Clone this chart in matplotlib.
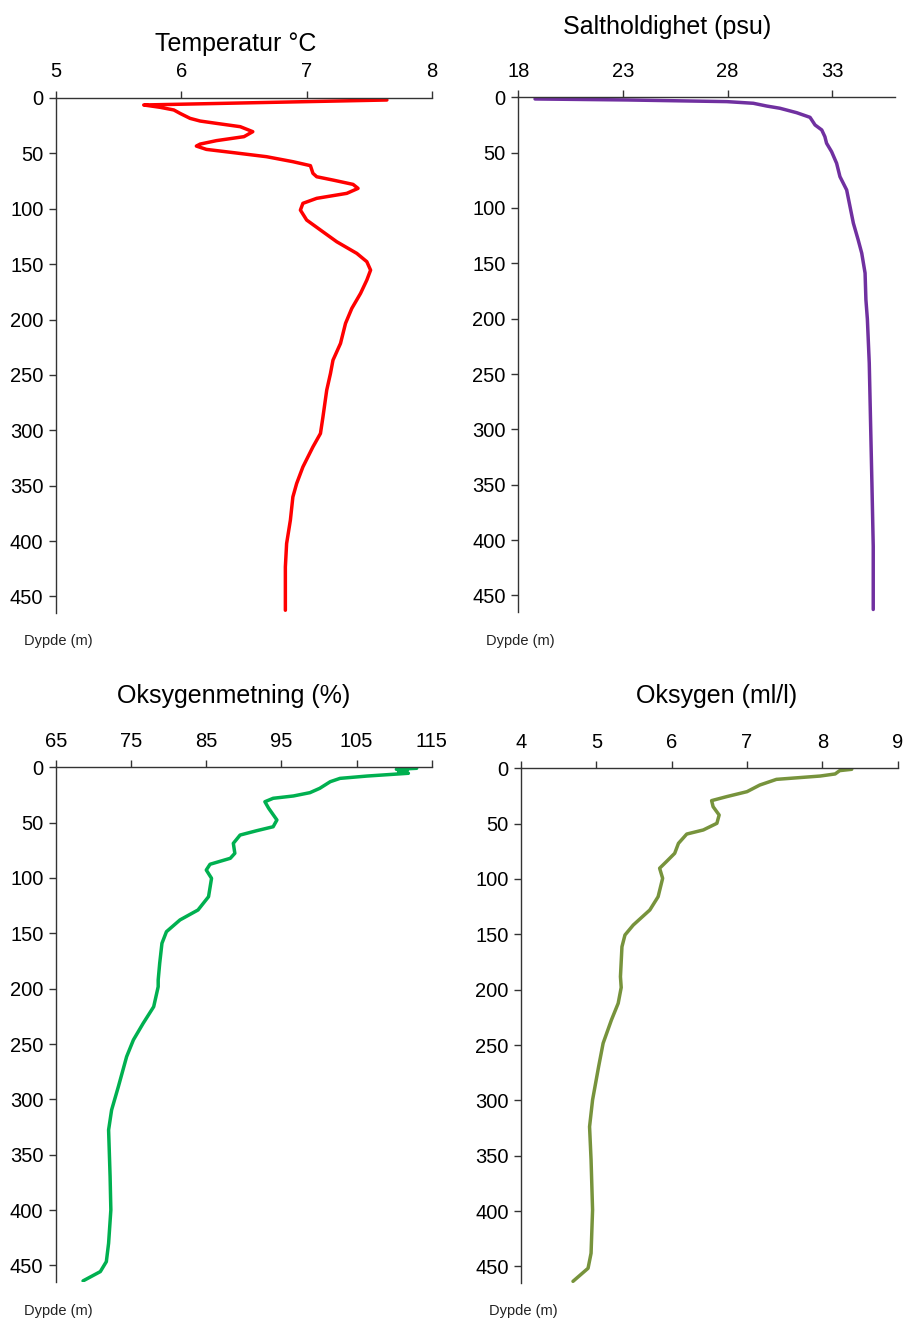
import matplotlib
matplotlib.use("Agg")
import matplotlib.pyplot as plt

plt.rcParams['font.family'] = ['Liberation Sans', 'DejaVu Sans']

# Temperatur (°C) mot dybde (m)
temp_depth = [1.8, 6.3, 8.4, 10.8, 13.9, 18.4, 20.8, 22.9, 25.9, 30.4, 34.9, 38.5,
              41.6, 43.4, 46.4, 49.4, 53.0, 57.5, 61.1, 68.0, 71.1, 74.1, 78.0,
              81.6, 86.1, 90.6, 95.1, 101.2, 110.2, 119.2, 129.8, 140.3, 147.8,
              155.4, 164.4, 176.4, 190.0, 203.5, 221.6, 236.7, 248.7, 263.8, 287.9,
              302.9, 315.0, 333.1, 348.1, 360.2, 381.2, 402.3, 423.4, 462.5]
temp = [7.64, 5.70, 5.83, 5.94, 5.99, 6.07, 6.15, 6.28, 6.47, 6.57, 6.50, 6.28,
        6.15, 6.12, 6.20, 6.42, 6.68, 6.89, 7.03, 7.05, 7.08, 7.21, 7.37, 7.41,
        7.32, 7.08, 6.97, 6.95, 7.00, 7.11, 7.24, 7.40, 7.48, 7.51, 7.48, 7.43,
        7.36, 7.31, 7.27, 7.21, 7.19, 7.16, 7.13, 7.11, 7.05, 6.97, 6.92, 6.89,
        6.87, 6.84, 6.83, 6.83]

# Saltholdighet (psu)
sal_depth = [1.5, 2.4, 3.9, 5.4, 7.9, 9.9, 13.9, 18.1, 25.0, 29.5, 35.6, 41.5,
             49.1, 59.6, 71.7, 83.7, 98.7, 113.7, 128.8, 140.8, 158.8, 182.9,
             200.4, 240.1, 300.3, 351.4, 405.6, 462.7]
sal = [18.80, 23.18, 27.96, 29.23, 29.87, 30.50, 31.30, 31.94, 32.18, 32.50, 32.65,
       32.73, 32.97, 33.21, 33.37, 33.69, 33.85, 34.01, 34.24, 34.41, 34.57, 34.61,
       34.68, 34.77, 34.84, 34.90, 34.96, 34.96]

# Oksygenmetning (%)
osat_depth = [0.9, 1.8, 3.0, 4.2, 5.4, 7.9, 10.0, 13.0, 19.0, 22.9, 25.9, 28.0,
              31.1, 37.0, 47.6, 53.7, 57.3, 61.2, 68.7, 77.7, 82.2, 87.6, 92.8,
              100.3, 116.9, 128.9, 137.9, 148.5, 159.0, 177.1, 192.1, 198.2, 216.3,
              231.3, 246.3, 261.4, 288.5, 309.6, 327.6, 369.8, 399.9, 430.0, 446.6,
              455.6, 464.0]
osat = [113.0, 110.3, 111.7, 110.6, 111.9, 106.4, 102.8, 101.5, 100.1, 98.8, 96.6,
        93.9, 92.8, 93.3, 94.4, 93.9, 91.7, 89.5, 88.6, 88.8, 88.2, 85.5, 85.0,
        85.7, 85.3, 83.9, 81.5, 79.7, 79.1, 78.8, 78.6, 78.6, 78.0, 76.6, 75.3,
        74.4, 73.3, 72.4, 72.0, 72.2, 72.3, 72.0, 71.7, 70.9, 68.6]

# Oksygen (ml/l)
oxy_depth = [0.9, 2.1, 5.1, 7.0, 10.0, 15.1, 21.1, 25.6, 29.2, 34.7, 42.2, 49.7,
             55.7, 59.4, 67.8, 76.8, 84.3, 90.3, 99.4, 116.0, 128.0, 141.6, 150.6,
             161.2, 188.3, 198.0, 212.3, 227.4, 248.4, 269.6, 299.6, 323.8, 353.8,
             399.0, 438.1, 451.7, 463.5]
oxy = [8.39, 8.23, 8.17, 7.97, 7.39, 7.17, 7.00, 6.73, 6.53, 6.55, 6.63, 6.60,
       6.42, 6.20, 6.09, 6.04, 5.93, 5.84, 5.88, 5.82, 5.71, 5.49, 5.38, 5.34,
       5.32, 5.33, 5.29, 5.20, 5.09, 5.03, 4.95, 4.91, 4.93, 4.95, 4.93, 4.89,
       4.69]

depth_ticks = [0, 50, 100, 150, 200, 250, 300, 350, 400, 450]

W, H = 904, 1319
fig = plt.figure(figsize=(W / 100, H / 100), dpi=100)


def panel(left, right, top, bottom, x, y, xlim, xticks, color, title, title_xy, label_xy):
    ax = fig.add_axes([left / W, 1 - bottom / H, (right - left) / W, (bottom - top) / H])
    ax.plot(x, y, color=color, lw=2.5, solid_joinstyle='round', solid_capstyle='round')
    ax.set_xlim(*xlim)
    ax.set_ylim(465, 0)
    ax.set_xticks(xticks)
    ax.set_yticks(depth_ticks)
    ax.xaxis.tick_top()
    for s in ['right', 'bottom']:
        ax.spines[s].set_visible(False)
    for s in ['left', 'top']:
        ax.spines[s].set_color('#333333')
        ax.spines[s].set_linewidth(1.0)
    ax.tick_params(axis='x', direction='out', length=5, width=1, color='#333333',
                   pad=7, labelsize=14.5)
    ax.tick_params(axis='y', direction='out', length=5, width=1, color='#333333',
                   pad=4, labelsize=14.5)
    fig.text(title_xy[0] / W, 1 - title_xy[1] / H, title, ha='center', va='center',
             fontsize=18)
    fig.text(label_xy[0] / W, 1 - label_xy[1] / H, 'Dypde (m)', ha='left', va='center',
             fontsize=10.5, color='#222222')
    return ax


panel(56, 432, 98, 613, temp, temp_depth, (5, 8), [5, 6, 7, 8], '#ff0000',
      'Temperatur °C', (236, 44), (24, 641))
panel(518.3, 895, 97.3, 612, sal, sal_depth, (18, 36), [18, 23, 28, 33], '#7030a0',
      'Saltholdighet (psu)', (667, 27), (486, 641))
panel(56, 431.7, 767.3, 1282, osat, osat_depth, (65, 115), [65, 75, 85, 95, 105, 115],
      '#00b050', 'Oksygenmetning (%)', (234, 696), (24, 1311))
panel(521, 897.7, 768.3, 1283, oxy, oxy_depth, (4, 9), [4, 5, 6, 7, 8, 9], '#77933c',
      'Oksygen (ml/l)', (717, 696), (489, 1311))

fig.savefig('out.png', dpi=100)
